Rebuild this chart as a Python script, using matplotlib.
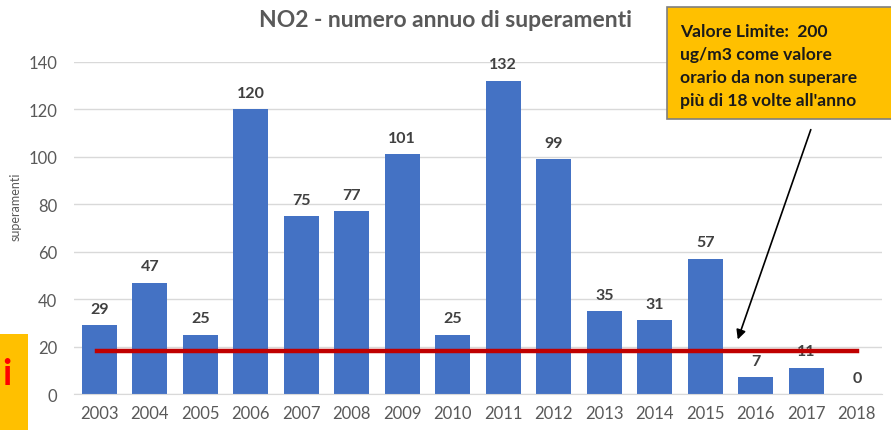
import numpy as np
import matplotlib
matplotlib.use("Agg")
import matplotlib.pyplot as plt
from matplotlib.patches import Rectangle

years = ["2003", "2004", "2005", "2006", "2007", "2008", "2009", "2010",
         "2011", "2012", "2013", "2014", "2015", "2016", "2017", "2018"]
superamenti = [29, 47, 25, 120, 75, 77, 101, 25, 132, 99, 35, 31, 57, 7, 11, 0]
limite = 18
yticks = [0, 20, 40, 60, 80, 100, 120, 140]

plt.rcParams['font.family'] = ['Lato', 'DejaVu Sans']

fig = plt.figure(figsize=(8.91, 4.31), dpi=100)
ax = fig.add_axes([0.083, 0.0835, 0.907, 0.7705])

x = np.arange(len(years))
ax.bar(x, superamenti, width=0.7, color="#4472C4", zorder=2)
for xi, v in zip(x, superamenti):
    ax.text(xi, v + 4, str(v), ha="center", va="bottom", fontsize=11.5,
            fontweight="bold", color="#404040", zorder=3)

ax.set_xlim(-0.5, len(years) - 0.5)
ax.set_ylim(0, 140)
ax.set_yticks(yticks)
ax.set_xticks(x)
ax.set_xticklabels(years)
ax.tick_params(axis="both", length=0, labelsize=12, labelcolor="#595959")
ax.tick_params(axis="y", pad=12)
ax.tick_params(axis="x", pad=8)
ax.grid(axis="y", color="#D9D9D9", linewidth=1, zorder=0)
for s in ["top", "right", "left"]:
    ax.spines[s].set_visible(False)
ax.spines["bottom"].set_color("#D9D9D9")

# linea valore limite
ax.plot([-0.05, 15.0], [limite, limite], color="#C00000", linewidth=3.2, zorder=4)

fig.text(0.5, 0.952, "NO2 - numero annuo di superamenti", ha="center", va="center",
         fontsize=16.5, fontweight="bold", color="#595959")

fig.text(0.018, 0.52, "superamenti", rotation=90, ha="center", va="center",
         fontsize=9, color="#595959")

# box a sinistra
fig.patches.append(Rectangle((0, 0), 0.031, 0.223, transform=fig.transFigure,
                             facecolor="#FFC000", edgecolor="none", zorder=1))
fig.text(0.002, 0.13, "i", fontsize=26, color="#FF0000", fontweight="bold",
         ha="left", va="center")

# riquadro valore limite
fig.patches.append(Rectangle((0.7486, 0.7216), 0.26, 0.26, transform=fig.transFigure,
                             facecolor="#FFC000", edgecolor="#7F7F7F", linewidth=1.2,
                             zorder=5))
fig.text(0.763, 0.846, "Valore Limite:  200\nug/m3 come valore\norario da non superare\npiù di 18 volte all'anno",
         ha="left", va="center", fontsize=12.6, fontweight="bold", color="#1a1a1a",
         linespacing=1.55, zorder=6)

ax.annotate("", xy=(0.827, 0.204), xycoords="figure fraction",
            xytext=(0.911, 0.703), textcoords="figure fraction",
            arrowprops=dict(arrowstyle="-|>", color="black", lw=1.2, mutation_scale=14))

fig.savefig("out.png", dpi=100)
